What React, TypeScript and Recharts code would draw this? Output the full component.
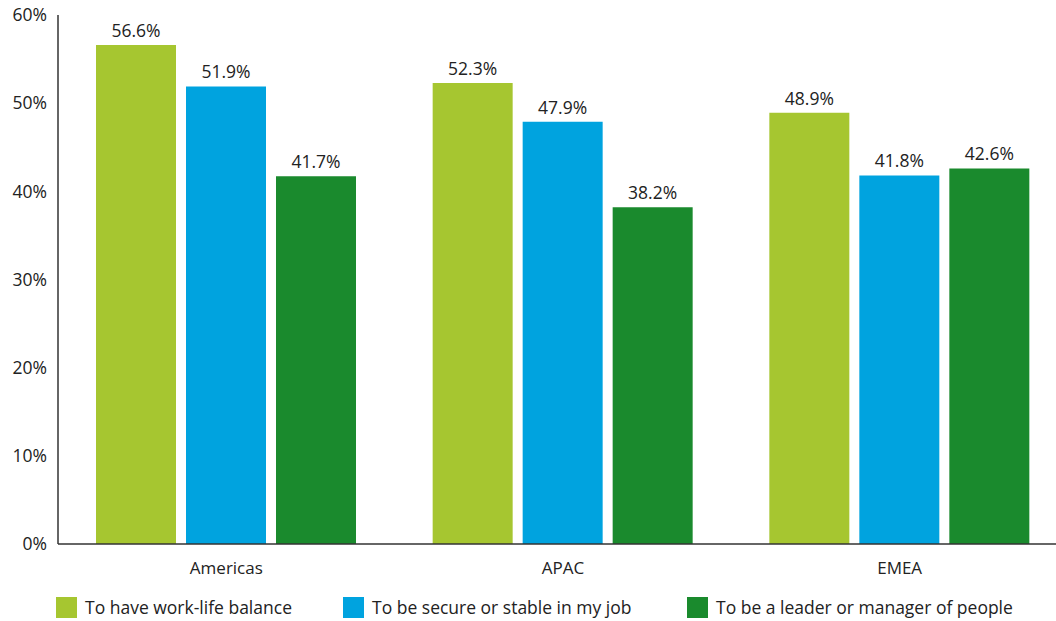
import { BarChart, Bar, XAxis, YAxis, LabelList } from 'recharts'

const regions = ['Americas', 'APAC', 'EMEA']
const workLife = [56.6, 52.3, 48.9]
const secure = [51.9, 47.9, 41.8]
const leader = [41.7, 38.2, 42.6]
const yTicks = [0, 10, 20, 30, 40, 50, 60]

const SERIES = [
  { key: 'workLife', name: 'To have work-life balance', color: '#a6c630' },
  { key: 'secure', name: 'To be secure or stable in my job', color: '#00a3df' },
  { key: 'leader', name: 'To be a leader or manager of people', color: '#1a8a2d' },
]

const data = regions.map((r, i) => ({
  region: r,
  workLife: workLife[i],
  secure: secure[i],
  leader: leader[i],
}))

const FONT = '"Open Sans", "Noto Sans", sans-serif'
const TEXT = '#222'

export default function App() {
  return (
    <div style={{ position: 'absolute', left: 0, top: 0, width: 1056, height: 621, overflow: 'hidden', fontFamily: FONT, background: '#fff' }}>
      <BarChart
        width={1068}
        height={621}
        data={data}
        margin={{ top: 15, right: 0, bottom: 37, left: 0 }}
        barCategoryGap={39}
        barGap={10}
      >
        <YAxis
          domain={[0, 60]}
          ticks={yTicks}
          width={58}
          tickLine={false}
          tickMargin={5}
          axisLine={{ stroke: '#333', strokeWidth: 1.5 }}
          tickFormatter={(v: number) => `${v}%`}
          tick={{ fill: TEXT, fontSize: 17.5, fontFamily: FONT }}
        />
        <XAxis
          dataKey="region"
          height={40}
          tickLine={false}
          tickMargin={12}
          axisLine={{ stroke: '#333', strokeWidth: 1.5 }}
          tick={{ fill: TEXT, fontSize: 17, fontFamily: FONT }}
        />
        {SERIES.map(s => (
          <Bar key={s.key} dataKey={s.key} name={s.name} fill={s.color} barSize={80} isAnimationActive={false}>
            <LabelList
              dataKey={s.key}
              position="top"
              offset={8}
              formatter={(v: any) => `${Number(v).toFixed(1)}%`}
              style={{ fill: TEXT, fontSize: 17.5, fontFamily: FONT }}
            />
          </Bar>
        ))}
      </BarChart>

      {/* legend */}
      <div style={{ position: 'absolute', top: 597, left: 56, display: 'flex', fontSize: 17.5, color: TEXT }}>
        {SERIES.map((s, i) => (
          <div key={s.key} style={{ display: 'flex', alignItems: 'center', width: i === 0 ? 287 : i === 1 ? 344 : 'auto' }}>
            <span style={{ width: 21, height: 21, background: s.color, marginRight: 8, flexShrink: 0 }} />
            <span style={{ lineHeight: '21px', whiteSpace: 'nowrap' }}>{s.name}</span>
          </div>
        ))}
      </div>
    </div>
  )
}
